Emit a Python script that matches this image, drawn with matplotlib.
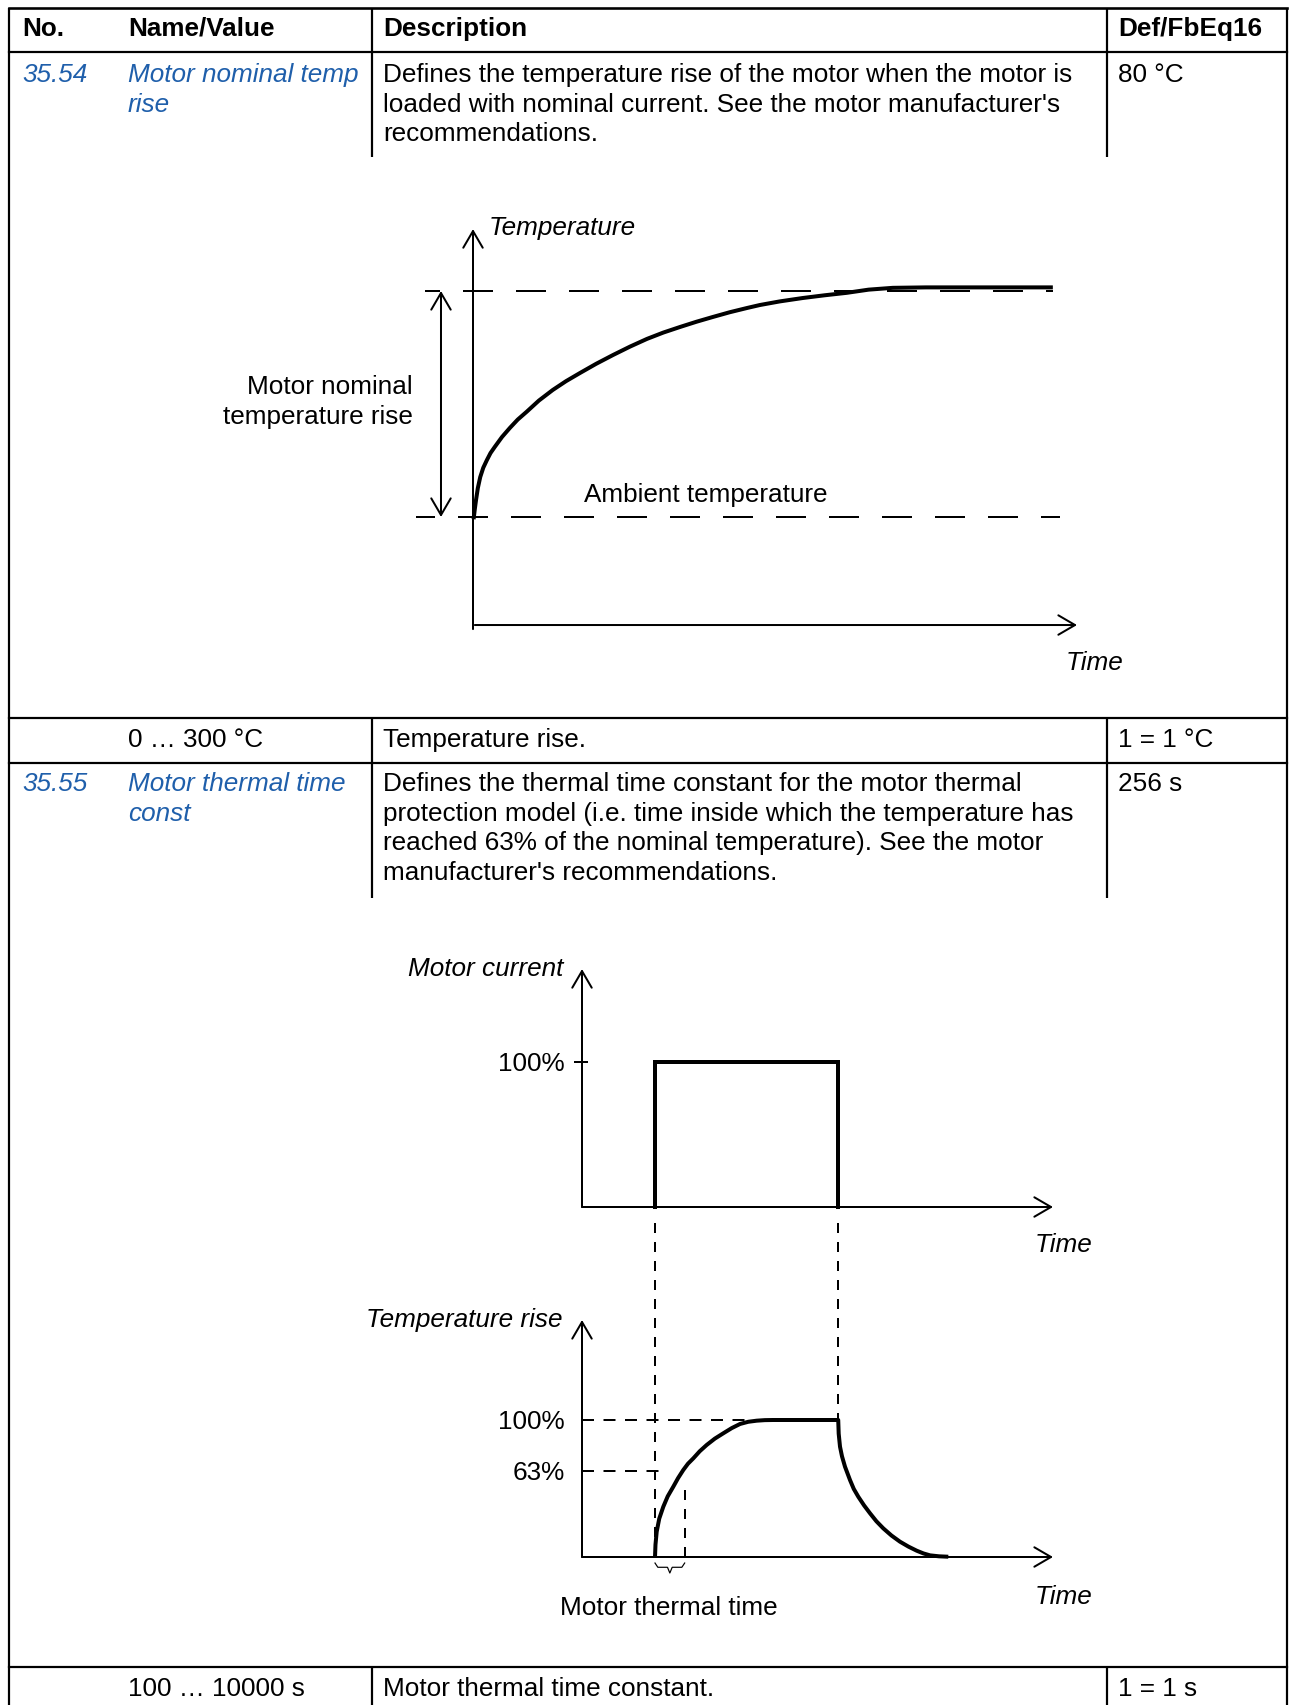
import matplotlib
matplotlib.use('Agg')
import matplotlib.pyplot as plt

W, H = 1292, 1705
DPI = 100
plt.rcParams['font.family'] = ['Liberation Sans', 'DejaVu Sans']
plt.rcParams['lines.scale_dashes'] = False

FS = 18.8
BLUE = '#1f5fab'
PX = 0.72  # points per pixel at 100 dpi

# ---------------- table data ----------------
header_labels = ['No.', 'Name/Value', 'Description', 'Def/FbEq16']
param_ids = ['35.54', '35.55']
param_names = [['Motor nominal temp', 'rise'],
               ['Motor thermal time', 'const']]
param_desc = [['Defines the temperature rise of the motor when the motor is',
               "loaded with nominal current. See the motor manufacturer's",
               'recommendations.'],
              ['Defines the thermal time constant for the motor thermal',
               'protection model (i.e. time inside which the temperature has',
               'reached 63% of the nominal temperature). See the motor',
               "manufacturer's recommendations."]]
param_defaults = ['80 °C', '256 s']
param_ranges = ['0 … 300 °C', '100 … 10000 s']
range_desc = ['Temperature rise.', 'Motor thermal time constant.']
range_scale = ['1 = 1 °C', '1 = 1 s']

# ---------------- diagram 1: temperature rise curve ----------------
rise_time = [0.1, 0.3, 0.5, 0.8, 1.2, 1.7, 2.3, 2.9, 3.6, 4.8, 6.1, 7.4,
             8.9, 10.9, 13.2, 15.4, 17.7, 20.4, 23.2, 26.0, 28.8, 31.5,
             34.3, 37.0, 39.7, 42.5, 45.4, 47.5, 50.8, 54.6, 58.2, 61.9,
             65.5, 69.5, 75.0, 96.0]
rise_temp = [-1.0, 3.5, 7.5, 12.8, 17.7, 21.8, 25.2, 28.3, 31.0, 35.4,
             39.4, 43.1, 46.6, 51.5, 56.2, 60.1, 63.7, 67.8, 71.7, 75.4,
             78.8, 81.6, 84.1, 86.4, 88.5, 90.6, 92.5, 93.8, 95.4, 96.9,
             98.1, 99.2, 100.6, 101.4, 101.6, 101.6]
ambient_level = 0
nominal_level = 100

# ---------------- diagram 2: current pulse and thermal response ----------------
pulse_time = [15.5, 15.5, 54.4, 54.4]
pulse_current = [0, 100, 100, 0]
thermal_time = [15.5, 15.6, 15.86, 16.4, 17.26, 18.2, 19.38, 20.4, 21.5,
                22.5, 23.63, 25.0, 26.48, 28.2, 30.0, 31.8, 33.55, 35.3,
                37.09, 38.8, 40.55, 54.4,
                54.5, 54.78, 55.2, 55.84, 56.9, 57.7, 58.66, 59.9, 61.15,
                62.5, 63.97, 65.7, 67.5, 69.3, 71.06, 72.5, 73.9, 75.8, 77.77]
thermal_rise = [0, 9.0, 18.5, 28.0, 36.7, 44.3, 51.3, 57.6, 63.5,
                68.1, 72.0, 77.2, 81.8, 86.4, 90.3, 94.1, 97.1, 98.7,
                99.5, 99.9, 100, 100,
                90.0, 80.5, 73.5, 65.9, 56.2, 49.7, 44.0, 37.6, 31.9,
                26.1, 20.9, 15.7, 11.2, 7.6, 4.6, 2.6, 1.2, 0.5, 0.2]
level_labels = ['100%', '63%']
level_values = [100, 63]
tau_time = 21.8

# ---------------- figure ----------------
fig = plt.figure(figsize=(W / DPI, H / DPI), dpi=DPI)
bg = fig.add_axes([0, 0, 1, 1])
bg.set_xlim(0, W)
bg.set_ylim(H, 0)
bg.axis('off')

LW_T = 2.2 * PX


def hline(y, x0=9, x1=1287, lw=LW_T):
    bg.plot([x0, x1], [y, y], color='k', lw=lw, solid_capstyle='projecting')


def vline(x, y0, y1, lw=LW_T):
    bg.plot([x, x], [y0, y1], color='k', lw=lw, solid_capstyle='butt')


def txt(x, y, s, **kw):
    d = dict(fontsize=FS, va='baseline', ha='left', color='k')
    d.update(kw)
    bg.text(x, y, s, **d)


# outer border and rules
hline(8, lw=2.6 * PX)
vline(9, 8, H)
vline(1287, 8, H)
for y in (52, 718, 763, 1667):
    hline(y)
for x in (372, 1107):
    vline(x, 8, 157)
    vline(x, 718, 898)
    vline(x, 1667, H)

COLX = [22, 128, 383, 1118]
for x, s in zip(COLX, header_labels):
    txt(x, 36, s, fontweight='bold')

row_base = [82, 791]
LS = 29.7
for i in range(2):
    b = row_base[i]
    txt(COLX[0], b, param_ids[i], color=BLUE, style='italic')
    for j, s in enumerate(param_names[i]):
        txt(COLX[1], b + j * LS, s, color=BLUE, style='italic')
    for j, s in enumerate(param_desc[i]):
        txt(COLX[2], b + j * LS, s)
    txt(COLX[3], b, param_defaults[i])

for b, r, d, sc in zip([747, 1696], param_ranges, range_desc, range_scale):
    txt(COLX[1], b, r)
    txt(COLX[2], b, d)
    txt(COLX[3], b, sc)


# ---------------- diagram axes helper ----------------
def make_ax(L, T, R, B, xmap, ymap):
    def fx(p):
        return xmap[1] + (p - xmap[0]) * (xmap[3] - xmap[1]) / (xmap[2] - xmap[0])

    def fy(p):
        return ymap[1] + (p - ymap[0]) * (ymap[3] - ymap[1]) / (ymap[2] - ymap[0])
    ax = fig.add_axes([L / W, 1 - B / H, (R - L) / W, (B - T) / H])
    ax.set_xlim(fx(L), fx(R))
    ax.set_ylim(fy(B), fy(T))
    ax.axis('off')
    ax.patch.set_alpha(0)
    return ax


AX_LW = 2.0 * PX
CURVE_LW = 4.0 * PX
arrow1 = dict(arrowstyle='->,head_length=0.6,head_width=0.35', lw=AX_LW,
              color='k', shrinkA=0, shrinkB=0, mutation_scale=20)
arrow2 = dict(arrowstyle='<->,head_length=0.6,head_width=0.35', lw=AX_LW,
              color='k', shrinkA=0, shrinkB=0, mutation_scale=20)

# diagram 1
ax1 = make_ax(380, 200, 1140, 700, (473, 0, 1077, 100), (517, 0, 291, 100))
ax1.annotate('', xy=(0, 127.4), xytext=(0, -49.6), arrowprops=arrow1)
ax1.annotate('', xy=(100, -47.8), xytext=(0.3, -47.8), arrowprops=arrow1)
ax1.plot([-7.9, 96.0], [nominal_level] * 2, color='k', lw=AX_LW,
         ls=(15 * PX, (30 * PX, 23 * PX)))
ax1.plot([-9.4, 97.2], [ambient_level] * 2, color='k', lw=AX_LW,
         ls=(11 * PX, (30 * PX, 23 * PX)))
ax1.annotate('', xy=(-5.3, nominal_level), xytext=(-5.3, ambient_level),
             arrowprops=arrow2)
ax1.plot(rise_time, rise_temp, color='k', lw=CURVE_LW,
         solid_joinstyle='round', solid_capstyle='butt')

txt(489, 235, 'Temperature', style='italic')
txt(413, 394, 'Motor nominal', ha='right')
txt(413, 424, 'temperature rise', ha='right')
txt(584, 502, 'Ambient temperature')
txt(1066, 670, 'Time', style='italic')

# diagram 2 top: motor current
ax2 = make_ax(380, 940, 1140, 1230, (582, 0, 1053, 100), (1207, 0, 1062, 100))
ax2.annotate('', xy=(0, 164.1), xytext=(0, 0), arrowprops=arrow1)
ax2.annotate('', xy=(100, 0), xytext=(0, 0), arrowprops=arrow1)
ax2.plot([-1.5, 1.1], [100, 100], color='k', lw=AX_LW)
ax2.plot(pulse_time, pulse_current, color='k', lw=CURVE_LW,
         solid_joinstyle='miter')
ax2.annotate('100%', xy=(0, 100), xytext=(-17 * PX, -9.3 * PX),
             textcoords='offset points', ha='right', va='baseline', fontsize=FS)
txt(563, 976, 'Motor current', ha='right', style='italic')
txt(1035, 1252, 'Time', style='italic')

# diagram 2 bottom: temperature rise
ax3 = make_ax(380, 1280, 1140, 1640, (582, 0, 1053, 100), (1557, 0, 1420, 100))
ax3.annotate('', xy=(0, 173), xytext=(0, 0), arrowprops=arrow1)
ax3.annotate('', xy=(100, 0), xytext=(0, 0), arrowprops=arrow1)
h_dash = (0, (12 * PX, 9.5 * PX))
v_dash = (0, (10 * PX, 9 * PX))
ax3.plot([0, 35.0], [level_values[0]] * 2, color='k', lw=AX_LW, ls=h_dash)
ax3.plot([0, 17.2], [level_values[1]] * 2, color='k', lw=AX_LW, ls=h_dash)
ax3.plot([tau_time, tau_time], [0, 50.4], color='k', lw=AX_LW, ls=v_dash)
ax3.plot([pulse_time[0]] * 2, [243.8, 0], color='k', lw=AX_LW, ls=v_dash,
         clip_on=False)
ax3.plot([pulse_time[2]] * 2, [243.8, 100], color='k', lw=AX_LW, ls=v_dash,
         clip_on=False)
ax3.plot(thermal_time, thermal_rise, color='k', lw=CURVE_LW,
         solid_joinstyle='round', solid_capstyle='butt')
for lab, v in zip(level_labels, level_values):
    ax3.annotate(lab, xy=(0, v), xytext=(-17 * PX, -9.3 * PX),
                 textcoords='offset points', ha='right', va='baseline', fontsize=FS)
# brace under the time constant
bx0, bx1 = pulse_time[0], tau_time
bm = (bx0 + bx1) / 2
ax3.plot([bx0, bx0 + 0.6, bm - 0.5, bm, bm + 0.5, bx1 - 0.6, bx1],
         [-4.4, -7.5, -7.5, -11.7, -7.5, -7.5, -4.4],
         color='k', lw=1.2 * PX, clip_on=False)

txt(563, 1327, 'Temperature rise', ha='right', style='italic')
txt(669, 1615, 'Motor thermal time', ha='center')
txt(1035, 1604, 'Time', style='italic')

fig.savefig('out.png', dpi=DPI)
